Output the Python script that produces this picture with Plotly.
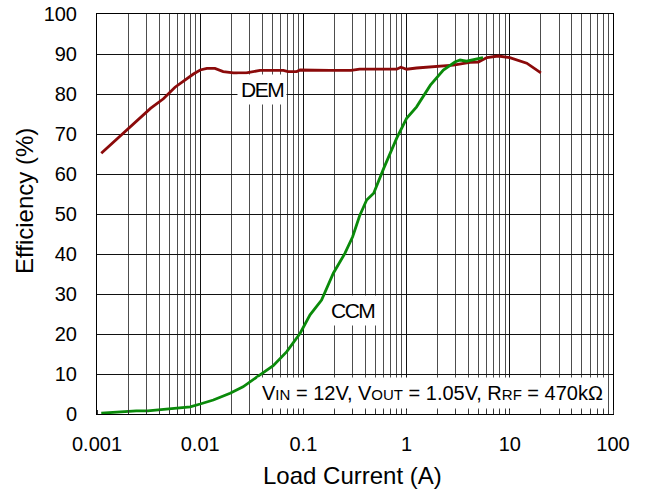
import plotly.graph_objects as go

# DEM (discontinuous emulation mode) efficiency curve
dem_current = [0.0011, 0.0018, 0.0033, 0.0044, 0.0057, 0.0086, 0.010, 0.0116, 0.0139,
               0.0167, 0.021, 0.028, 0.038, 0.064, 0.071, 0.086, 0.093, 0.18, 0.29,
               0.35, 0.80, 0.88, 1.0, 1.25, 1.7, 2.84, 4.1, 4.95, 6.0, 7.7, 10.0,
               14.6, 20.0]
dem_eff = [65.2, 70.2, 76.4, 78.8, 81.7, 85.0, 86.0, 86.4, 86.4,
           85.6, 85.3, 85.3, 85.9, 85.9, 85.6, 85.6, 86.0, 85.9, 85.9,
           86.2, 86.2, 86.7, 86.2, 86.5, 86.7, 87.2, 87.9, 88.0, 89.1, 89.5, 89.1,
           87.7, 85.3]

# CCM (forced continuous conduction mode) efficiency curve
ccm_current = [0.0011, 0.0024, 0.0031, 0.0051, 0.0080, 0.010, 0.0134, 0.0195, 0.026,
               0.038, 0.051, 0.069, 0.093, 0.116, 0.150, 0.195, 0.253, 0.30, 0.35,
               0.41, 0.48, 0.60, 0.72, 0.80, 1.0, 1.25, 1.7, 2.27, 2.94, 3.3, 3.8,
               5.5]
ccm_eff = [0.2, 0.8, 0.8, 1.4, 1.8, 2.5, 3.5, 5.2, 6.8,
           9.8, 12.1, 15.6, 20.2, 24.8, 28.5, 35.2, 40.2, 44.3, 49.5,
           53.5, 55.2, 61.4, 66.0, 68.9, 73.9, 76.8, 82.2, 86.0, 88.0, 88.5, 88.2,
           89.1]

x_tick_vals = [0.001, 0.01, 0.1, 1, 10, 100]
x_tick_text = ["0.001", "0.01", "0.1", "1", "10", "100"]
y_tick_vals = [0, 10, 20, 30, 40, 50, 60, 70, 80, 90, 100]

FONT = "Liberation Sans, Arial, sans-serif"

fig = go.Figure()
fig.add_trace(go.Scatter(x=dem_current, y=dem_eff, mode="lines",
                         line=dict(color="#8B0A0A", width=2.8), name="DEM",
                         showlegend=False))
fig.add_trace(go.Scatter(x=ccm_current, y=ccm_eff, mode="lines",
                         line=dict(color="#0A8A0A", width=2.8), name="CCM",
                         showlegend=False))

cond_text = ("V<span style='font-size:15px'>IN</span> = 12V, "
             "V<span style='font-size:15px'>OUT</span> = 1.05V, "
             "R<span style='font-size:15px'>RF</span> = 470kΩ")

fig.update_layout(
    template="none",
    width=645, height=495,
    margin=dict(l=97, r=32, t=14, b=81, autoexpand=False),
    paper_bgcolor="white", plot_bgcolor="white",
    font=dict(family=FONT, color="black", size=20),
    annotations=[
        dict(x=-1.40, y=81.2, xref="x", yref="y",
             text="<span style='letter-spacing:-1.5px'>DEM</span>", showarrow=False,
             font=dict(size=21), bgcolor="white", borderpad=3),
        dict(x=-0.52, y=26, xref="x", yref="y",
             text="<span style='letter-spacing:-1.5px'>CCM</span>", showarrow=False,
             font=dict(size=21), bgcolor="white", borderpad=3),
        dict(x=0.99, y=(414 - 393) / 400, xref="paper", yref="paper", xanchor="right",
             yanchor="middle", text=cond_text,
             showarrow=False, font=dict(size=20), bgcolor="white", borderpad=4),
        dict(x=(352 - 97) / 516, y=-(475 - 414) / 400, xref="paper", yref="paper",
             text="Load Current (A)", showarrow=False, font=dict(size=24),
             xanchor="center", yanchor="middle"),
        dict(x=-(97 - 24) / 516, y=(414 - 201) / 400, xref="paper", yref="paper",
             text="Efficiency (%)", showarrow=False, font=dict(size=24), textangle=-90,
             xanchor="center", yanchor="middle"),
    ],
)

fig.update_xaxes(
    type="log", range=[-3, 2], automargin=False,
    tickvals=x_tick_vals, ticktext=x_tick_text,
    showgrid=True, gridcolor="#111111", gridwidth=1,
    minor=dict(dtick="D1", showgrid=True, gridcolor="#4d4d4d", gridwidth=1,
               ticks="inside", ticklen=4, tickcolor="#333333"),
    ticks="", showline=True, linecolor="black", linewidth=1, mirror=True,
    zeroline=False, ticklabelstandoff=12, ticklabeloverflow="allow",
    tickfont=dict(size=20),
)
fig.update_yaxes(
    range=[0, 100], tickvals=y_tick_vals, automargin=False,
    showgrid=True, gridcolor="#111111", gridwidth=1,
    ticks="", showline=True, linecolor="black", linewidth=1, mirror=True,
    zeroline=False, ticklabelstandoff=15, ticklabeloverflow="allow",
    tickfont=dict(size=20),
)

fig.write_html("out.html", config={"displayModeBar": False},
               post_script="document.body.style.margin='0';")
